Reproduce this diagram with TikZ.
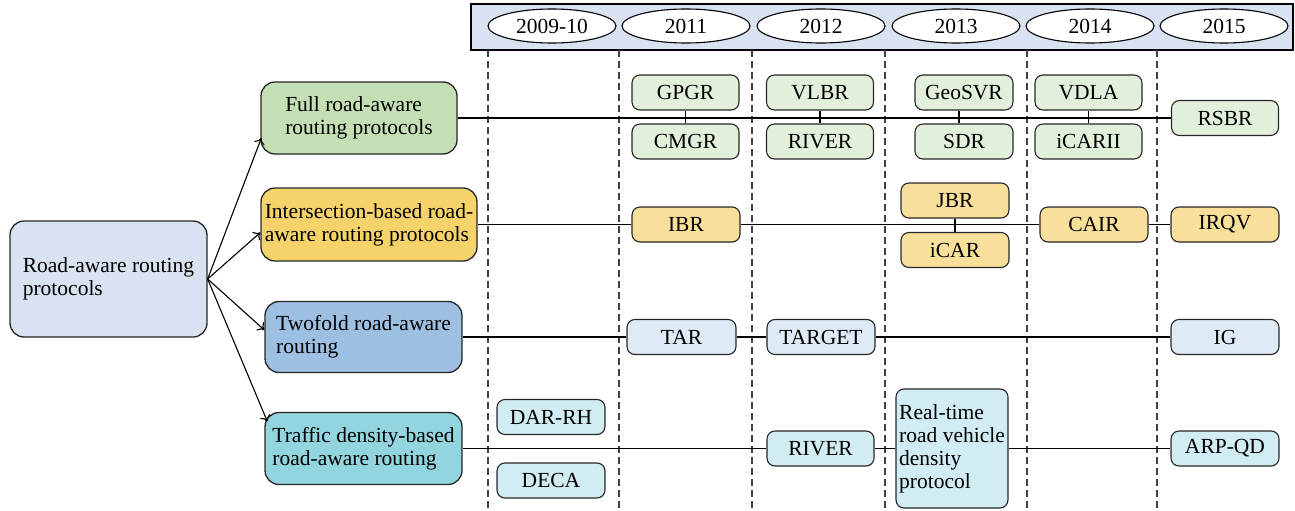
\documentclass[tikz,border=0pt]{standalone}
\definecolor{rootblue}{RGB}{217,226,241}
\definecolor{fullgreen}{RGB}{197,223,180}
\definecolor{intyellow}{RGB}{245,211,106}
\definecolor{twoblue}{RGB}{157,191,226}
\definecolor{trafcyan}{RGB}{146,213,222}
\definecolor{lightgreen}{RGB}{226,239,218}
\definecolor{lightyellow}{RGB}{248,224,154}
\definecolor{lightblue}{RGB}{222,235,247}
\definecolor{lightcyan}{RGB}{209,236,242}
\usepackage{fontspec}
\setmainfont{Liberation Serif}
\usepackage{tikz}
\usetikzlibrary{shapes.geometric,arrows.meta,calc}

\begin{document}
\begin{tikzpicture}[x=1pt,y=-1pt,font=\fontsize{21.5}{23}\selectfont]

%
% Styles
%
\tikzstyle{bigbox}  = [rectangle,rounded corners=14pt,draw=black!85,line width=1.3pt,align=left,inner sep=2pt]
\tikzstyle{proto}   = [rectangle,rounded corners=8pt,draw=black!85,line width=1.1pt,minimum width=107pt,minimum height=35pt,inner sep=2pt]
\tikzstyle{year}    = [ellipse,draw=black,line width=1.1pt,fill=white,minimum width=128pt,minimum height=34pt,inner sep=0pt]
\tikzstyle{yearsep} = [dash pattern=on 7pt off 4pt,line width=1.1pt,color=black!75]
\tikzstyle{link}    = [line width=1.1pt]
\tikzstyle{branch}  = [-{To[length=6pt,width=11pt]},line width=1.1pt]

\useasboundingbox (0,0) rectangle (1295,511);

% year header
\node[draw=black,line width=1.1pt,fill=rootblue,minimum width=822pt,minimum height=46pt] (header) at (882,27) {};
\node[year] (y0910) at (552,26)  {2009-10};
\node[year] (y2011) at (686,26)  {2011};
\node[year] (y2012) at (821,26)  {2012};
\node[year] (y2013) at (956,26)  {2013};
\node[year] (y2014) at (1090,26) {2014};
\node[year] (y2015) at (1224,26) {2015};

\foreach \x in {488,619,752,885,1027,1157}
  \draw[yearsep] (\x,50) -- (\x,511);

% categories
\node[bigbox,fill=rootblue,minimum width=197pt,minimum height=116pt] (root) at (108.5,279) {Road-aware routing\\protocols};
\node[bigbox,fill=fullgreen,minimum width=196pt,minimum height=72pt] (full) at (359,118) {Full road-aware\\routing protocols};
\node[bigbox,fill=intyellow,minimum width=216pt,minimum height=73pt] (inter) at (369,224.5) {Intersection-based road-\\aware routing protocols};
\node[bigbox,fill=twoblue,minimum width=197pt,minimum height=71pt] (twofold) at (363.5,337) {Twofold road-aware\\routing};
\node[bigbox,fill=trafcyan,minimum width=197pt,minimum height=72pt] (traffic) at (363.5,448.5) {Traffic density-based\\road-aware routing};

% full road-aware
\node[proto,fill=lightgreen] (gpgr)   at (685.5,92.5)  {GPGR};
\node[proto,fill=lightgreen] (cmgr)   at (685.5,141.5) {CMGR};
\node[proto,fill=lightgreen] (vlbr)   at (820,92.5)    {VLBR};
\node[proto,fill=lightgreen] (riverA) at (820,141.5)   {RIVER};
\node[proto,fill=lightgreen,minimum width=98pt] (geosvr) at (964,92.5)  {GeoSVR};
\node[proto,fill=lightgreen,minimum width=98pt] (sdr)    at (964,141.5) {SDR};
\node[proto,fill=lightgreen] (vdla)   at (1088.5,92.5)  {VDLA};
\node[proto,fill=lightgreen] (icarii) at (1088.5,141.5) {iCARII};
\node[proto,fill=lightgreen] (rsbr)   at (1225,118)     {RSBR};

% intersection-based
\node[proto,fill=lightyellow,minimum width=108pt] (ibr)  at (686,224.5)  {IBR};
\node[proto,fill=lightyellow,minimum width=108pt] (jbr)  at (955,200.5)  {JBR};
\node[proto,fill=lightyellow,minimum width=108pt] (icar) at (955,250)    {iCAR};
\node[proto,fill=lightyellow,minimum width=108pt] (cair) at (1094,224.5) {CAIR};
\node[proto,fill=lightyellow,minimum width=108pt] (irqv) at (1225,224.5) {IRQV};

% twofold
\node[proto,fill=lightblue,minimum width=109pt] (tar)    at (681.5,337) {TAR};
\node[proto,fill=lightblue,minimum width=108pt] (target) at (821,337)   {TARGET};
\node[proto,fill=lightblue,minimum width=108pt] (ig)     at (1225,337)  {IG};

% traffic density-based
\node[proto,fill=lightcyan,minimum width=108pt] (darrh)  at (551,417)     {DAR-RH};
\node[proto,fill=lightcyan,minimum width=108pt] (deca)   at (551,480.5)   {DECA};
\node[proto,fill=lightcyan] (riverB) at (820.5,448.5) {RIVER};
\node[proto,fill=lightcyan,minimum width=112pt,minimum height=119pt,align=left] (realtime) at (952,448.5) {Real-time\\road vehicle\\density\\protocol};
\node[proto,fill=lightcyan,minimum width=108pt] (arpqd)  at (1225,448.5)  {ARP-QD};

% branches
\draw[branch] (root.east) -- ($(full.west)+(1,20)$);
\draw[branch] (root.east) -- ($(inter.west)+(0,8)$);
\draw[branch] (root.east) -- ($(twofold.west)+(0,-7)$);
\draw[branch] (root.east) -- ($(traffic.west)+(3,-27)$);

% timelines
\draw[link] (full.east) -- (rsbr.west);
\draw[link] (gpgr) -- (cmgr);
\draw[link] (vlbr) -- (riverA);
\draw[link] (geosvr.south -| 959,0) -- (sdr.north -| 959,0);
\draw[link] (vdla) -- (icarii);

\draw[link] (inter.east) -- (ibr.west);
\draw[link] (ibr.east) -- (cair.west);
\draw[link] (jbr) -- (icar);
\draw[link] (cair.east) -- (irqv.west);

\draw[link] (twofold.east) -- (tar.west);
\draw[link] (tar.east) -- (target.west);
\draw[link] (target.east) -- (ig.west);

\draw[link] (traffic.east) -- (riverB.west);
\draw[link] (riverB.east) -- (realtime.west);
\draw[link] (realtime.east) -- (arpqd.west);

\end{tikzpicture}
\end{document}
